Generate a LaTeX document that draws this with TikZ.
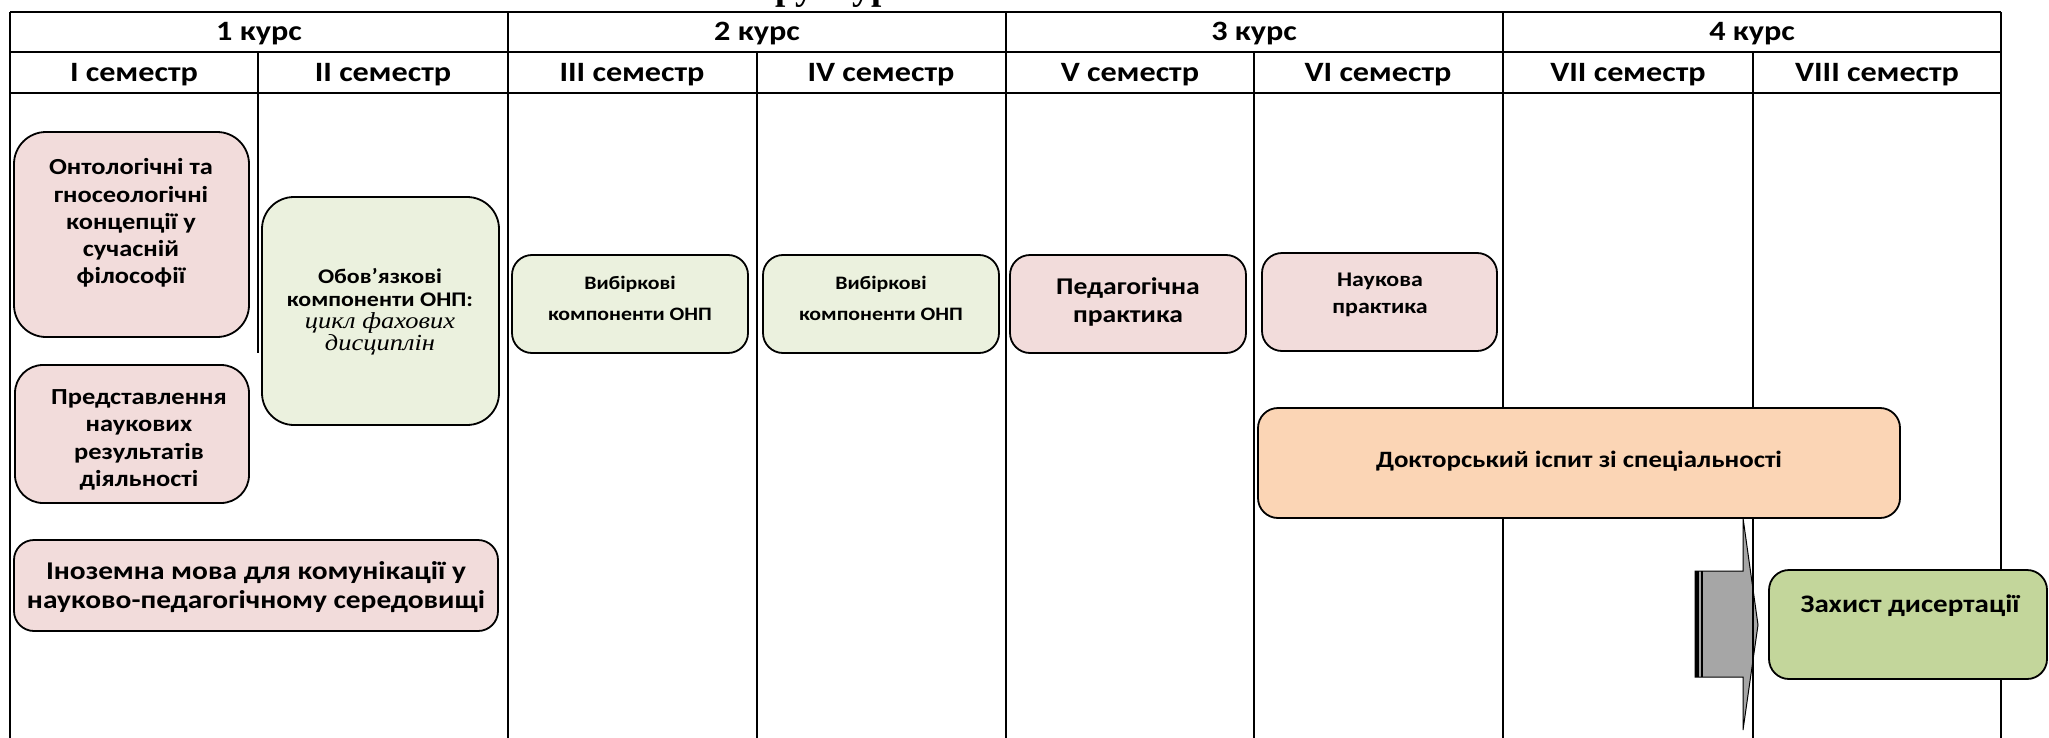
\documentclass[tikz,border=0pt]{standalone}
\usepackage{fontspec}
\setmainfont{Carlito}[FakeStretch=1.15]
\newfontfamily\timesf{Liberation Serif}[FakeStretch=1.15]
\newfontfamily\titlef{Liberation Serif}
\usetikzlibrary{fit}
\definecolor{pinkf}{HTML}{F2DCDB}
\definecolor{greenf}{HTML}{EBF1DE}
\definecolor{peachf}{HTML}{FBD5B5}
\definecolor{olivef}{HTML}{C3D69B}
\definecolor{arrowg}{HTML}{A6A6A6}
\begin{document}
\begin{tikzpicture}[x=0.5pt,y=-0.5pt,
  tline/.style={line width=1.1pt},
  box/.style={draw=black, line width=0.9pt, rounded corners=10pt, inner sep=0pt},
  bigbox/.style={box, rounded corners=16pt},
  txt/.style={align=center, inner sep=0pt, font=\bfseries\fontsize{11.5}{13.4}\selectfont},
  hdr/.style={inner sep=0pt, font=\bfseries\fontsize{14}{16}\selectfont},
]
\useasboundingbox (0,0) rectangle (2049,738);
\clip (0,0) rectangle (2049,738);

% title (only its lower edge is visible)
\node[anchor=base, inner sep=0pt, font=\titlef\bfseries\fontsize{18.5}{20}\selectfont] (title) at (1000,-0.5) {Структурно-логічна схема ОНП};

% block arrow
\filldraw[fill=arrowg, draw=black, line width=0.5pt] (1695,571) -- (1743,571) -- (1743,518) -- (1758,625) -- (1743,730) -- (1743,677) -- (1695,677) -- cycle;
\fill[black] (1695,571) rectangle (1699,677);
\fill[black] (1701,571) rectangle (1703,677);

% table
\draw[tline] (10,12) -- (2001,12);
\draw[tline] (10,52) -- (2001,52);
\draw[tline] (10,93) -- (2001,93);
\foreach \x in {10,508,1006,1503,2001} \draw[tline] (\x,12) -- (\x,745);
\foreach \x in {757,1254,1753} \draw[tline] (\x,52) -- (\x,745);
\draw[tline] (258,52) -- (258,353);

% headers
\node[hdr] (k1) at (259,34) {1 курс};
\node[hdr] (k2) at (757,34) {2 курс};
\node[hdr] (k3) at (1254,34) {3 курс};
\node[hdr] (k4) at (1752,34) {4 курс};
\node[hdr] (s1) at (134,75) {I семестр};
\node[hdr] (s2) at (383,75) {II семестр};
\node[hdr] (s3) at (632,75) {III семестр};
\node[hdr] (s4) at (881,75) {IV семестр};
\node[hdr] (s5) at (1130,75) {V семестр};
\node[hdr] (s6) at (1378,75) {VI семестр};
\node[hdr] (s7) at (1628,75) {VII семестр};
\node[hdr] (s8) at (1877,75) {VIII семестр};

% boxes
\node[bigbox, fill=pinkf, fit={(14,132) (249,337)}] (ont) {};
\node[txt, font=\bfseries\fontsize{11.5}{13.6}\selectfont] (ont-t) at (131,223) {Онтологічні та\\гносеологічні\\концепції у\\сучасній\\філософії};

\node[bigbox, fill=pinkf, rounded corners=14pt, fit={(15,365) (249,503)}] (pred) {};
\node[txt, font=\bfseries\fontsize{11.5}{13.7}\selectfont] (pred-t) at (139,440) {Представлення\\наукових\\результатів\\діяльності};

\node[bigbox, fill=greenf, fit={(262,197) (499,425)}] (obov) {};
\node[txt, font=\bfseries\fontsize{10.4}{11.2}\selectfont] (obov-t) at (380,312) {Обов’язкові\\компоненти ОНП:\\{\timesf\itshape\mdseries\fontsize{11.5}{11.2}\selectfont цикл фахових}\\{\timesf\itshape\mdseries\fontsize{11.5}{11.2}\selectfont дисциплін}};

\node[box, fill=greenf, fit={(512,255) (748,353)}] (vyb1) {};
\node[txt, font=\bfseries\fontsize{9.5}{15.5}\selectfont] (vyb1-t) at (630,298) {Вибіркові\\компоненти ОНП};
\node[box, fill=greenf, fit={(763,255) (999,353)}] (vyb2) {};
\node[txt, font=\bfseries\fontsize{9.5}{15.5}\selectfont] (vyb2-t) at (881,298) {Вибіркові\\компоненти ОНП};
\node[box, fill=pinkf, fit={(1010,255) (1246,353)}] (ped) {};
\node[txt, font=\bfseries\fontsize{12}{14.4}\selectfont] (ped-t) at (1128,302) {Педагогічна\\практика};
\node[box, fill=pinkf, fit={(1262,253) (1497,351)}] (nauk) {};
\node[txt, font=\bfseries\fontsize{10.4}{13.7}\selectfont] (nauk-t) at (1380,295) {Наукова\\практика};

\node[box, fill=pinkf, fit={(14,540) (498,631)}] (inoz) {};
\node[txt, font=\bfseries\fontsize{12.8}{14.5}\selectfont] (inoz-t) at (256,587) {Іноземна мова для комунікації у\\науково-педагогічному середовищі};

\node[box, fill=peachf, fit={(1258,408) (1900,518)}] (dokt) {};
\node[txt, font=\bfseries\fontsize{11.7}{14}\selectfont] (dokt-t) at (1579,461) {Докторський іспит зі спеціальності};

\node[box, fill=olivef, fit={(1769,570) (2047,679)}] (zakh) {};
\node[txt, font=\bfseries\fontsize{12.6}{14}\selectfont] (zakh-t) at (1910,606) {Захист дисертації};
\end{tikzpicture}
\end{document}
